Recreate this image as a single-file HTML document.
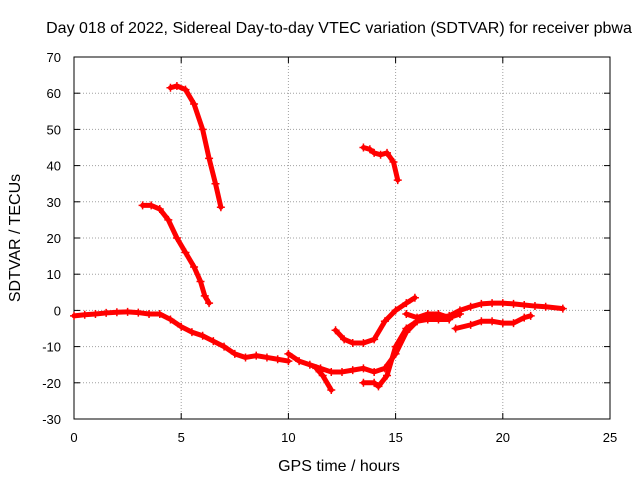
<!DOCTYPE html>
<html><head><meta charset="utf-8"><style>
body{margin:0;background:#fff;font-family:"Liberation Sans",sans-serif}
svg text{font-family:"Liberation Sans",sans-serif;font-size:13px;fill:#000}
svg text.big{font-size:16px}
</style></head><body>
<svg id="chart" width="640" height="480" xmlns="http://www.w3.org/2000/svg">
<rect width="640" height="480" fill="#fff"/>
<text class="big" x="339" y="33" text-anchor="middle">Day 018 of 2022, Sidereal Day-to-day VTEC variation (SDTVAR) for receiver pbwa</text>
<text class="big" x="339" y="471" text-anchor="middle">GPS time / hours</text>
<text class="big" transform="translate(20,238) rotate(-90)" text-anchor="middle">SDTVAR / TECUs</text>
<g id="grid"></g><g id="axes"></g><g id="series"></g>
</svg>
<script>
const xTicks=[0,5,10,15,20,25];
const yTicks=[-30,-20,-10,0,10,20,30,40,50,60,70];
const track1T=[0,0.5,1,1.5,2,2.5,3,3.5,4,4.5,5,5.5,6,6.5,7,7.5,8,8.5,9,9.5,10];
const track1V=[-1.5,-1.2,-1,-0.7,-0.5,-0.4,-0.6,-1,-1,-2.5,-4.5,-6,-7,-8.5,-10,-12,-13,-12.5,-13,-13.5,-14];
const track2T=[10,10.5,11,11.5,12,12.5,13,13.5,14,14.5,15,15.5,16,16.5,17,17.5,18,18.5,19,19.5,20,20.5,21,21.5,22,22.8];
const track2V=[-12,-14,-15,-16,-17,-17,-16.5,-16,-17,-16,-12,-6,-3,-2,-2,-1.5,0,1,1.8,2,2,1.8,1.5,1.2,1,0.5];
const track3T=[4.5,4.8,5.2,5.6,6,6.3,6.6,6.85];
const track3V=[61.5,62,61,57,50,42,35,28.5];
const track4T=[3.2,3.6,4,4.4,4.8,5.2,5.6,5.9,6.1,6.3];
const track4V=[29,29,28,25,20,16,12,8,4,2];
const track5T=[13.5,13.8,14,14.3,14.6,14.9,15.1];
const track5V=[45,44.5,43.5,43,43.5,41,36];
const track6T=[12.2,12.6,13,13.5,14,14.5,15,15.5,15.9];
const track6V=[-5.5,-8,-9,-9,-8,-3,0,2,3.5];
const track7T=[11.3,11.6,12];
const track7V=[-16,-18,-22];
const track8T=[13.5,14,14.2,14.6,15,15.5,16,16.5,17,17.5];
const track8V=[-20,-20,-21,-18,-10,-5,-3,-2.5,-2.5,-2.5];
const track9T=[17.8,18.5,19,19.5,20,20.5,21,21.3];
const track9V=[-5,-4,-3,-3,-3.5,-3.5,-2,-1.5];
const track10T=[15.5,16,16.5,17,17.5,18];
const track10V=[-1,-2,-1,-1,-2,-1];
const tracks=[[track1T,track1V],[track2T,track2V],[track3T,track3V],[track4T,track4V],[track5T,track5V],[track6T,track6V],[track7T,track7V],[track8T,track8V],[track9T,track9V],[track10T,track10V]];
const L=74,R=610,T=57,B=419;
const sx=v=>L+(v-0)/(25-0)*(R-L);
const sy=v=>B-(v+30)/(100)*(B-T);
const NS="http://www.w3.org/2000/svg";
function mk(tag,attrs,parent){const e=document.createElementNS(NS,tag);for(const k in attrs)e.setAttribute(k,attrs[k]);parent.appendChild(e);return e;}
const grid=document.getElementById('grid'),axes=document.getElementById('axes'),ser=document.getElementById('series');
xTicks.forEach(t=>{
 if(t>0&&t<25){const g=mk('line',{x1:sx(t),x2:sx(t),y1:T,y2:B,stroke:'#a0a0a0','stroke-dasharray':'1,2'},grid);
 
 }
 mk('line',{x1:sx(t),x2:sx(t),y1:B,y2:B-6,stroke:'#000'},axes);
 mk('line',{x1:sx(t),x2:sx(t),y1:T,y2:T+6,stroke:'#000'},axes);
 const tx=mk('text',{x:sx(t),y:B+23,'text-anchor':'middle'},axes);tx.textContent=t;
 
 
});
yTicks.forEach(t=>{
 if(t>-30&&t<70){const g=mk('line',{x1:L,x2:R,y1:sy(t),y2:sy(t),stroke:'#a0a0a0','stroke-dasharray':'1,2'},grid);
 
 }
 mk('line',{x1:L,x2:L+6,y1:sy(t),y2:sy(t),stroke:'#000'},axes);
 mk('line',{x1:R,x2:R-6,y1:sy(t),y2:sy(t),stroke:'#000'},axes);
 const tx=mk('text',{x:L-13,y:sy(t)+5,'text-anchor':'end'},axes);tx.textContent=t;
 
 
});
const fr=mk('rect',{x:L,y:T,width:R-L,height:B-T,fill:'none',stroke:'#000'},axes);


tracks.forEach(([ts,vs])=>{
 const p=ts.map((t,i)=>sx(t)+','+sy(vs[i])).join(' ');
 const pl=mk('polyline',{points:p,fill:'none',stroke:'#ff0000','stroke-width':5,'stroke-linejoin':'round','stroke-linecap':'round'},ser);
 
 
 ts.forEach((t,i)=>{const x=sx(t),y=sy(vs[i]);
  mk('path',{d:`M${x-4},${y}h8M${x},${y-4}v8`,stroke:'#ff0000','stroke-width':1.5},ser);});
});
</script>
</body></html>
